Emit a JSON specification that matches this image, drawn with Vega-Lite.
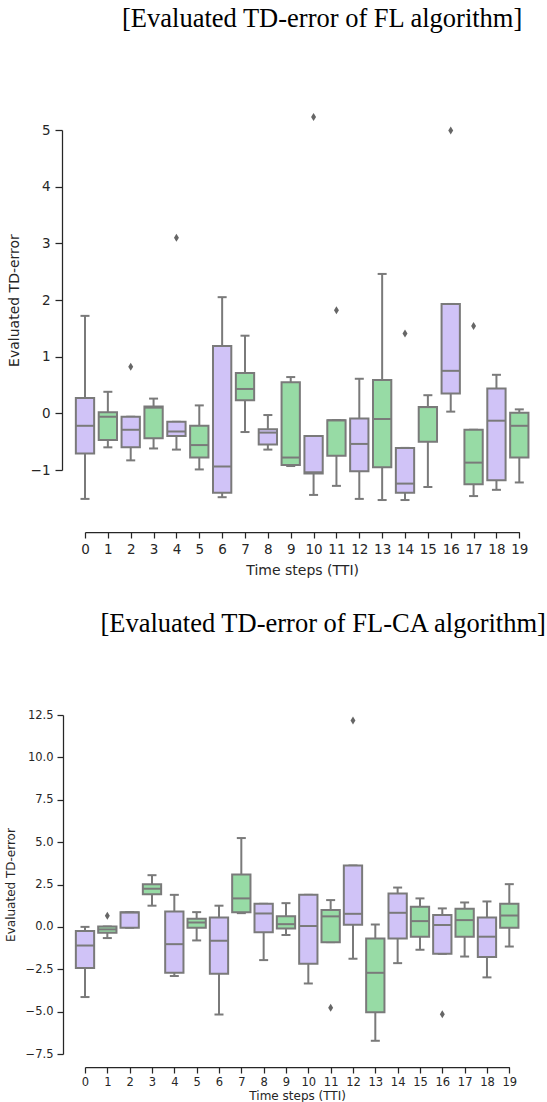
{
  "$schema": "https://vega.github.io/schema/vega-lite/v6.json",
  "background": "white",
  "padding": {"left": 4, "top": 6, "right": 0, "bottom": 0},
  "spacing": 32,
  "datasets": {
    "fl": [
      {"t": 0, "lo": -1.51, "q1": -0.71, "med": -0.22, "q3": 0.27, "hi": 1.72},
      {"t": 1, "lo": -0.60, "q1": -0.47, "med": -0.06, "q3": 0.02, "hi": 0.38},
      {"t": 2, "lo": -0.83, "q1": -0.60, "med": -0.29, "q3": -0.06, "hi": -0.06},
      {"t": 3, "lo": -0.62, "q1": -0.44, "med": 0.10, "q3": 0.12, "hi": 0.26},
      {"t": 4, "lo": -0.64, "q1": -0.40, "med": -0.32, "q3": -0.15, "hi": -0.15},
      {"t": 5, "lo": -0.99, "q1": -0.78, "med": -0.56, "q3": -0.22, "hi": 0.14},
      {"t": 6, "lo": -1.48, "q1": -1.40, "med": -0.94, "q3": 1.19, "hi": 2.05},
      {"t": 7, "lo": -0.33, "q1": 0.23, "med": 0.43, "q3": 0.71, "hi": 1.37},
      {"t": 8, "lo": -0.64, "q1": -0.55, "med": -0.34, "q3": -0.28, "hi": -0.03},
      {"t": 9, "lo": -0.93, "q1": -0.91, "med": -0.78, "q3": 0.55, "hi": 0.64},
      {"t": 10, "lo": -1.44, "q1": -1.06, "med": -1.04, "q3": -0.40, "hi": -0.40},
      {"t": 11, "lo": -1.28, "q1": -0.75, "med": -0.12, "q3": -0.12, "hi": -0.12},
      {"t": 12, "lo": -1.51, "q1": -1.02, "med": -0.54, "q3": -0.09, "hi": 0.61},
      {"t": 13, "lo": -1.53, "q1": -0.95, "med": -0.10, "q3": 0.59, "hi": 2.46},
      {"t": 14, "lo": -1.53, "q1": -1.40, "med": -1.24, "q3": -0.61, "hi": -0.61},
      {"t": 15, "lo": -1.30, "q1": -0.50, "med": 0.11, "q3": 0.11, "hi": 0.32},
      {"t": 16, "lo": 0.03, "q1": 0.35, "med": 0.75, "q3": 1.93, "hi": 1.93},
      {"t": 17, "lo": -1.46, "q1": -1.25, "med": -0.87, "q3": -0.29, "hi": -0.29},
      {"t": 18, "lo": -1.35, "q1": -1.18, "med": -0.13, "q3": 0.44, "hi": 0.68},
      {"t": 19, "lo": -1.22, "q1": -0.78, "med": -0.22, "q3": 0.01, "hi": 0.07}
    ],
    "flo": [
      {"t": 2, "v": 0.82},
      {"t": 4, "v": 3.10},
      {"t": 10, "v": 5.23},
      {"t": 11, "v": 1.82},
      {"t": 14, "v": 1.41},
      {"t": 16, "v": 4.99},
      {"t": 17, "v": 1.54}
    ],
    "ca": [
      {"t": 0, "lo": -4.14, "q1": -2.43, "med": -1.10, "q3": -0.25, "hi": 0.00},
      {"t": 1, "lo": -0.66, "q1": -0.35, "med": -0.15, "q3": 0.02, "hi": 0.02},
      {"t": 2, "lo": -0.05, "q1": -0.05, "med": 0.85, "q3": 0.87, "hi": 0.87},
      {"t": 3, "lo": 1.25, "q1": 1.93, "med": 2.25, "q3": 2.52, "hi": 3.05},
      {"t": 4, "lo": -2.90, "q1": -2.71, "med": -1.02, "q3": 0.91, "hi": 1.89},
      {"t": 5, "lo": -0.80, "q1": -0.05, "med": 0.26, "q3": 0.48, "hi": 0.87},
      {"t": 6, "lo": -5.17, "q1": -2.77, "med": -0.82, "q3": 0.56, "hi": 1.25},
      {"t": 7, "lo": 0.81, "q1": 0.87, "med": 1.68, "q3": 3.09, "hi": 5.24},
      {"t": 8, "lo": -1.96, "q1": -0.31, "med": 0.79, "q3": 1.36, "hi": 1.36},
      {"t": 9, "lo": -0.48, "q1": -0.09, "med": 0.16, "q3": 0.62, "hi": 1.40},
      {"t": 10, "lo": -3.34, "q1": -2.18, "med": 0.05, "q3": 1.89, "hi": 1.89},
      {"t": 11, "lo": -0.90, "q1": -0.90, "med": 0.62, "q3": 0.99, "hi": 1.58},
      {"t": 12, "lo": -1.88, "q1": 0.12, "med": 0.77, "q3": 3.62, "hi": 3.62},
      {"t": 13, "lo": -6.72, "q1": -5.03, "med": -2.71, "q3": -0.68, "hi": 0.14},
      {"t": 14, "lo": -2.14, "q1": -0.68, "med": 0.83, "q3": 1.97, "hi": 2.32},
      {"t": 15, "lo": -1.35, "q1": -0.58, "med": 0.34, "q3": 1.19, "hi": 1.68},
      {"t": 16, "lo": -1.59, "q1": -1.59, "med": 0.11, "q3": 0.70, "hi": 1.09},
      {"t": 17, "lo": -1.75, "q1": -0.58, "med": 0.40, "q3": 1.07, "hi": 1.44},
      {"t": 18, "lo": -2.98, "q1": -1.78, "med": -0.58, "q3": 0.56, "hi": 1.50},
      {"t": 19, "lo": -1.16, "q1": -0.05, "med": 0.67, "q3": 1.36, "hi": 2.52}
    ],
    "cao": [
      {"t": 1, "v": 0.65},
      {"t": 11, "v": -4.77},
      {"t": 12, "v": 12.18},
      {"t": 16, "v": -5.15}
    ]
  },
  "vconcat": [
    {
      "title": {"text": "[Evaluated TD-error of FL algorithm]", "font": "Liberation Serif", "fontSize": 26.5, "fontWeight": "normal", "color": "#000000", "anchor": "middle", "frame": "group", "dx": 20, "offset": 80},
      "width": 434.3,
      "height": 340,
      "encoding": {
        "x": {"field": "t", "type": "ordinal", "scale": {"type": "point", "padding": 0},
              "axis": {"offset": 62, "labelAngle": 0, "title": "Time steps (TTI)", "labelFontSize": 13.5, "titleFontSize": 14, "tickSize": 6, "labelPadding": 4, "titlePadding": 8}}
      },
      "layer": [
        {
          "data": {"name": "fl"},
          "mark": {"type": "rule", "color": "#7a7a7a", "strokeWidth": 2},
          "encoding": {
            "y": {"field": "lo", "type": "quantitative", "scale": {"domain": [-1, 5], "nice": false, "zero": false},
                  "axis": {"offset": 23, "values": [-1, 0, 1, 2, 3, 4, 5], "format": "d", "title": "Evaluated TD-error", "labelFontSize": 13.5, "titleFontSize": 14, "tickSize": 7, "labelPadding": 5, "titlePadding": 9}},
            "y2": {"field": "hi"}
          }
        },
        {
          "data": {"name": "fl"},
          "mark": {"type": "tick", "color": "#7a7a7a", "thickness": 2, "size": 9, "opacity": 1},
          "encoding": {"y": {"field": "lo", "type": "quantitative"}}
        },
        {
          "data": {"name": "fl"},
          "mark": {"type": "tick", "color": "#7a7a7a", "thickness": 2, "size": 9, "opacity": 1},
          "encoding": {"y": {"field": "hi", "type": "quantitative"}}
        },
        {
          "data": {"name": "fl"},
          "mark": {"type": "bar", "width": 18.3, "stroke": "#7a7a7a", "strokeWidth": 2, "opacity": 1},
          "encoding": {
            "y": {"field": "q1", "type": "quantitative"},
            "y2": {"field": "q3"},
            "color": {"field": "t", "type": "ordinal", "scale": {"range": ["#d0c3f7", "#97dba5"]}, "legend": null}
          }
        },
        {
          "data": {"name": "fl"},
          "mark": {"type": "tick", "color": "#7a7a7a", "thickness": 2, "size": 18.3, "opacity": 1},
          "encoding": {"y": {"field": "med", "type": "quantitative"}}
        },
        {
          "data": {"name": "flo"},
          "mark": {"type": "point", "shape": "M0,-1L0.62,0L0,1L-0.62,0Z", "size": 64, "filled": true, "color": "#666666", "opacity": 1},
          "encoding": {"y": {"field": "v", "type": "quantitative"}}
        }
      ]
    },
    {
      "title": {"text": "[Evaluated TD-error of FL-CA algorithm]", "font": "Liberation Serif", "fontSize": 26.5, "fontWeight": "normal", "color": "#000000", "anchor": "middle", "frame": "group", "dx": 26, "offset": 72},
      "width": 424.3,
      "height": 339,
      "encoding": {
        "x": {"field": "t", "type": "ordinal", "scale": {"type": "point", "padding": 0},
              "axis": {"offset": 13, "labelAngle": 0, "title": "Time steps (TTI)", "labelFontSize": 11.5, "titleFontSize": 12, "tickSize": 6, "labelPadding": 3, "titlePadding": 3}}
      },
      "layer": [
        {
          "data": {"name": "ca"},
          "mark": {"type": "rule", "color": "#7a7a7a", "strokeWidth": 2},
          "encoding": {
            "y": {"field": "lo", "type": "quantitative", "scale": {"domain": [-7.5, 12.5], "nice": false, "zero": false},
                  "axis": {"offset": 22, "values": [-7.5, -5, -2.5, 0, 2.5, 5, 7.5, 10, 12.5], "format": ".1f", "title": "Evaluated TD-error", "labelFontSize": 11.5, "titleFontSize": 12, "tickSize": 6, "labelPadding": 4, "titlePadding": 8}},
            "y2": {"field": "hi"}
          }
        },
        {
          "data": {"name": "ca"},
          "mark": {"type": "tick", "color": "#7a7a7a", "thickness": 2, "size": 9, "opacity": 1},
          "encoding": {"y": {"field": "lo", "type": "quantitative"}}
        },
        {
          "data": {"name": "ca"},
          "mark": {"type": "tick", "color": "#7a7a7a", "thickness": 2, "size": 9, "opacity": 1},
          "encoding": {"y": {"field": "hi", "type": "quantitative"}}
        },
        {
          "data": {"name": "ca"},
          "mark": {"type": "bar", "width": 18.3, "stroke": "#7a7a7a", "strokeWidth": 2, "opacity": 1},
          "encoding": {
            "y": {"field": "q1", "type": "quantitative"},
            "y2": {"field": "q3"},
            "color": {"field": "t", "type": "ordinal", "scale": {"range": ["#d0c3f7", "#97dba5"]}, "legend": null}
          }
        },
        {
          "data": {"name": "ca"},
          "mark": {"type": "tick", "color": "#7a7a7a", "thickness": 2, "size": 18.3, "opacity": 1},
          "encoding": {"y": {"field": "med", "type": "quantitative"}}
        },
        {
          "data": {"name": "cao"},
          "mark": {"type": "point", "shape": "M0,-1L0.62,0L0,1L-0.62,0Z", "size": 64, "filled": true, "color": "#666666", "opacity": 1},
          "encoding": {"y": {"field": "v", "type": "quantitative"}}
        }
      ]
    }
  ],
  "config": {
    "view": {"stroke": null},
    "axis": {"grid": false, "domainColor": "#262626", "tickColor": "#262626", "labelColor": "#262626", "titleColor": "#262626", "labelFont": "DejaVu Sans", "titleFont": "DejaVu Sans", "titleFontWeight": "normal", "domainWidth": 1.25, "tickWidth": 1.25}
  }
}
